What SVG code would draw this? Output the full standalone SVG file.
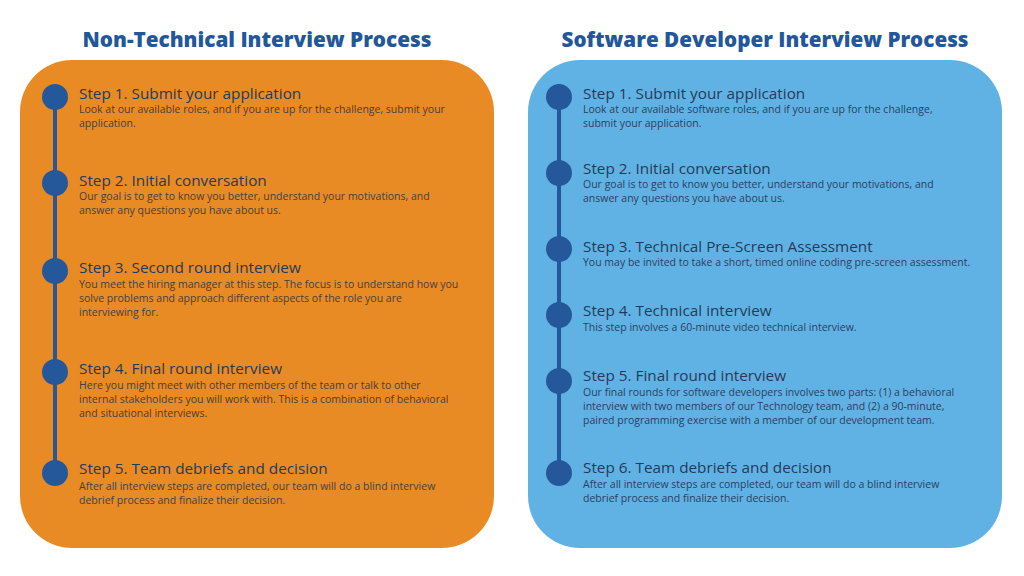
<svg xmlns="http://www.w3.org/2000/svg" width="1024" height="576" viewBox="0 0 1024 576">
<style>
.title{font-family:"Open Sans","Liberation Sans",sans-serif;font-weight:800;font-size:21px;fill:#22579B;text-anchor:middle}
.h{font-family:"Open Sans","Liberation Sans",sans-serif;font-size:15.3px;fill:#263a58}
.bl{font-family:"Open Sans","Liberation Sans",sans-serif;font-size:10.5px;fill:#45403f}
.br{font-family:"Open Sans","Liberation Sans",sans-serif;font-size:10.5px;fill:#2b405e}
.dot{fill:#24589B}
.line{stroke:#24589B;stroke-width:4;fill:none}
</style>
<rect width="1024" height="576" fill="#ffffff"/>
<text class="title" x="257" y="47" textLength="349" lengthAdjust="spacingAndGlyphs">Non-Technical Interview Process</text>
<text class="title" x="765" y="47" textLength="407" lengthAdjust="spacingAndGlyphs">Software Developer Interview Process</text>
<rect id="panel-left" x="20" y="60" width="474" height="488" rx="52" ry="52" fill="#E98B24"/>
<rect id="panel-right" x="528" y="60" width="474" height="488" rx="52" ry="52" fill="#61B2E4"/>
<g id="connectors">
<line class="line" x1="55" y1="97" x2="55" y2="473"/>
<line class="line" x1="559" y1="97" x2="559" y2="473"/>
</g>
<g id="l1"><circle class="dot" cx="55" cy="97" r="13"/>
<text class="h" x="79" y="99">Step 1. Submit your application</text>
<text class="bl" x="79" y="113">Look at our available roles, and if you are up for the challenge, submit your</text>
<text class="bl" x="79" y="127">application.</text></g>
<g id="l2"><circle class="dot" cx="55" cy="183" r="13"/>
<text class="h" x="79" y="186">Step 2. Initial conversation</text>
<text class="bl" x="79" y="200">Our goal is to get to know you better, understand your motivations, and</text>
<text class="bl" x="79" y="214">answer any questions you have about us.</text></g>
<g id="l3"><circle class="dot" cx="55" cy="271" r="13"/>
<text class="h" x="79" y="273">Step 3. Second round interview</text>
<text class="bl" x="79" y="288">You meet the hiring manager at this step. The focus is to understand how you</text>
<text class="bl" x="79" y="302">solve problems and approach different aspects of the role you are</text>
<text class="bl" x="79" y="316">interviewing for.</text></g>
<g id="l4"><circle class="dot" cx="55" cy="372" r="13"/>
<text class="h" x="79" y="374">Step 4. Final round interview</text>
<text class="bl" x="79" y="389">Here you might meet with other members of the team or talk to other</text>
<text class="bl" x="79" y="403">internal stakeholders you will work with. This is a combination of behavioral</text>
<text class="bl" x="79" y="417">and situational interviews.</text></g>
<g id="l5"><circle class="dot" cx="55" cy="473" r="13"/>
<text class="h" x="79" y="474">Step 5. Team debriefs and decision</text>
<text class="bl" x="79" y="490">After all interview steps are completed, our team will do a blind interview</text>
<text class="bl" x="79" y="504">debrief process and finalize their decision.</text></g>
<g id="r1"><circle class="dot" cx="559" cy="97" r="13"/>
<text class="h" x="583" y="99">Step 1. Submit your application</text>
<text class="br" x="583" y="113">Look at our available software roles, and if you are up for the challenge,</text>
<text class="br" x="583" y="127">submit your application.</text></g>
<g id="r2"><circle class="dot" cx="559" cy="173" r="13"/>
<text class="h" x="583" y="174">Step 2. Initial conversation</text>
<text class="br" x="583" y="188">Our goal is to get to know you better, understand your motivations, and</text>
<text class="br" x="583" y="202">answer any questions you have about us.</text></g>
<g id="r3"><circle class="dot" cx="559" cy="249" r="13"/>
<text class="h" x="583" y="252">Step 3. Technical Pre-Screen Assessment</text>
<text class="br" x="583" y="266">You may be invited to take a short, timed online coding pre-screen assessment.</text></g>
<g id="r4"><circle class="dot" cx="559" cy="315" r="13"/>
<text class="h" x="583" y="316">Step 4. Technical interview</text>
<text class="br" x="583" y="331">This step involves a 60-minute video technical interview.</text></g>
<g id="r5"><circle class="dot" cx="559" cy="381" r="13"/>
<text class="h" x="583" y="381">Step 5. Final round interview</text>
<text class="br" x="583" y="396">Our final rounds for software developers involves two parts: (1) a behavioral</text>
<text class="br" x="583" y="410">interview with two members of our Technology team, and (2) a 90-minute,</text>
<text class="br" x="583" y="424">paired programming exercise with a member of our development team.</text></g>
<g id="r6"><circle class="dot" cx="559" cy="473" r="13"/>
<text class="h" x="583" y="473">Step 6. Team debriefs and decision</text>
<text class="br" x="583" y="488">After all interview steps are completed, our team will do a blind interview</text>
<text class="br" x="583" y="502">debrief process and finalize their decision.</text></g>
</svg>
